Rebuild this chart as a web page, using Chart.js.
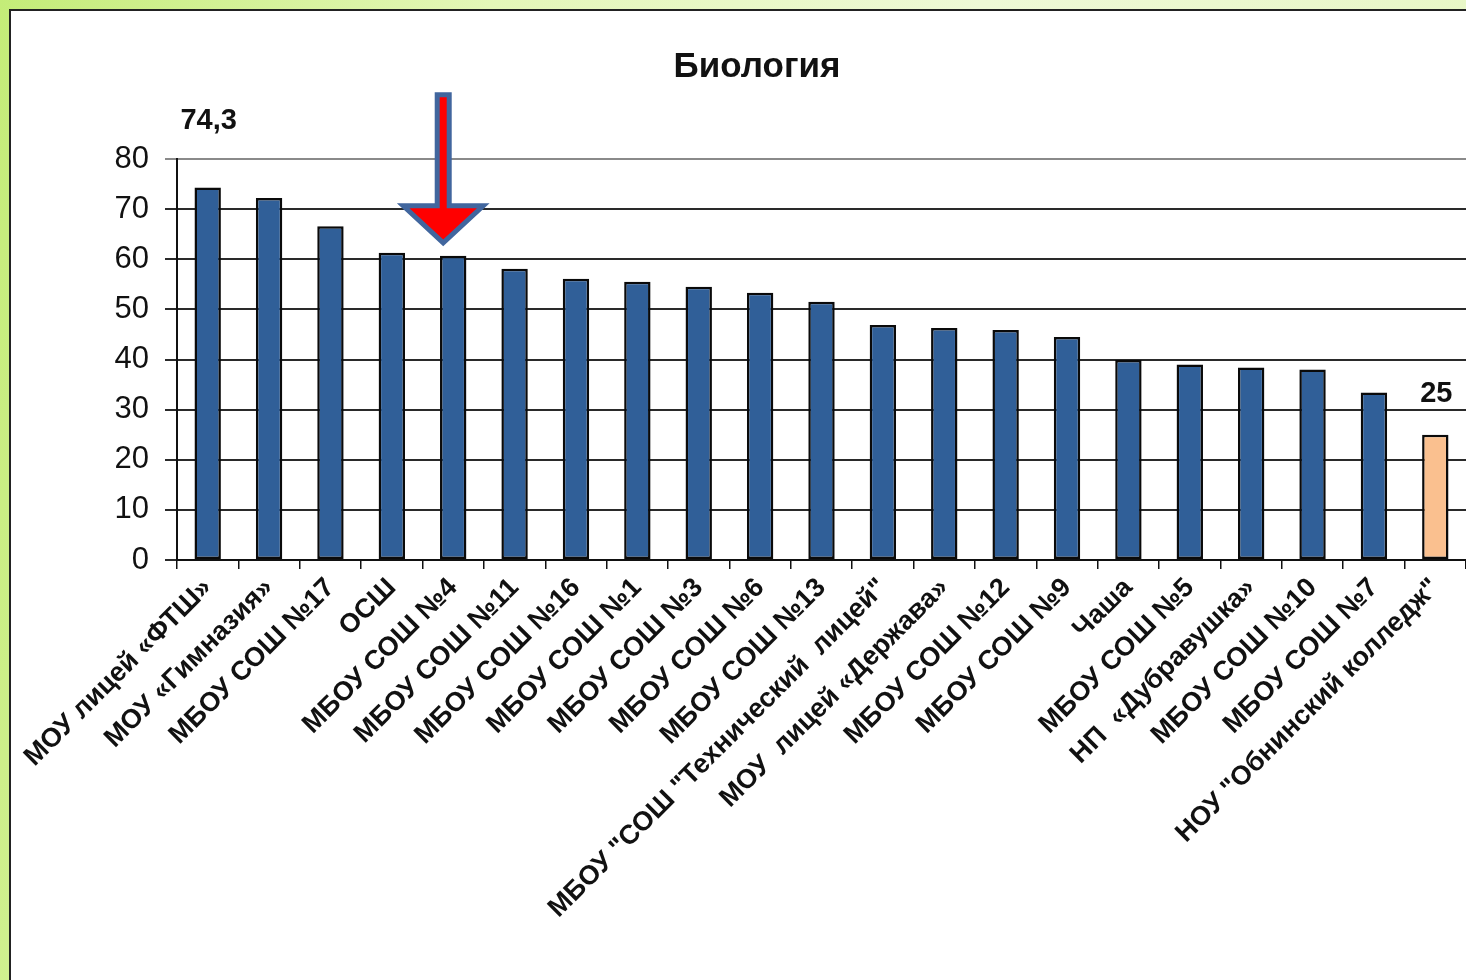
<!DOCTYPE html>
<html>
<head>
<meta charset="utf-8">
<script src="https://cdn.jsdelivr.net/npm/chart.js@4"></script>
<style>
  html, body { margin: 0; padding: 0; width: 1466px; height: 980px; overflow: hidden; }
  body { background: linear-gradient(100deg, #c4ec78 0%, #e4f7b8 30%, #eef9d6 60%, #e6f6c2 100%); position: relative; }
  #panel { position: absolute; left: 9px; top: 9px; width: 1540px; height: 1000px; background: #fff; border-left: 2px solid #222; border-top: 2px solid #222; }
  #chart { position: absolute; left: 10px; top: 10px; }
</style>
</head>
<body>
<div id="panel"></div>
<canvas id="chart" width="1494" height="970"></canvas>
<script>
const categories = [
    'МОУ лицей «ФТШ»',
    'МОУ «Гимназия»',
    'МБОУ СОШ №17',
    'ОСШ',
    'МБОУ СОШ №4',
    'МБОУ СОШ №11',
    'МБОУ СОШ №16',
    'МБОУ СОШ №1',
    'МБОУ СОШ №3',
    'МБОУ СОШ №6',
    'МБОУ СОШ №13',
    'МБОУ "СОШ "Технический  лицей"',
    'МОУ  лицей «Держава»',
    'МБОУ СОШ №12',
    'МБОУ СОШ №9',
    'Чаша',
    'МБОУ СОШ №5',
    'НП  «Дубравушка»',
    'МБОУ СОШ №10',
    'МБОУ СОШ №7',
    'НОУ "Обнинский колледж"'
];
const scores = [74.3, 72.2, 66.6, 61.3, 60.7, 58.1, 56.1, 55.5, 54.5, 53.3, 51.5,
    46.9, 46.3, 45.9, 44.5, 39.9, 39.0, 38.4, 38.0, 33.4, 25];
const valueLabels = ['74,3', '', '', '', '', '', '', '', '', '', '',
    '', '', '', '', '', '', '', '', '', '25'];
const markedIndex = 4;   // arrow points at this school
const yMin = 0, yMax = 80, yStep = 10;

const FONT = '"Liberation Sans", Arial, sans-serif';
const blue = '#305f98';
const peach = '#fac08f';

// labels above selected bars + the red arrow
const extrasPlugin = {
    id: 'extras',
    afterDatasetsDraw(chart) {
        const ctx = chart.ctx;
        const bars = chart.getDatasetMeta(0).data;
        ctx.save();
        ctx.font = 'bold 29px ' + FONT;
        ctx.fillStyle = '#111';
        ctx.textAlign = 'center';
        ctx.textBaseline = 'middle';
        const lift = { 0: 67, 20: 41 };
        valueLabels.forEach(function (txt, i) {
            if (!txt) return;
            const b = bars[i];
            ctx.fillText(txt, b.x + 1, b.y - (lift[i] || 40));
        });

        // arrow
        const b = bars[markedIndex];
        const cx = b.x - 10;
        const tip = b.y - 11;
        ctx.beginPath();
        ctx.moveTo(cx - 6, tip - 150);
        ctx.lineTo(cx + 6, tip - 150);
        ctx.lineTo(cx + 6, tip - 39);
        ctx.lineTo(cx + 40, tip - 39);
        ctx.lineTo(cx, tip - 2);
        ctx.lineTo(cx - 40, tip - 39);
        ctx.lineTo(cx - 6, tip - 39);
        ctx.closePath();
        ctx.fillStyle = '#ff0000';
        ctx.fill();
        ctx.lineWidth = 5;
        ctx.lineJoin = 'miter';
        ctx.strokeStyle = '#41669e';
        ctx.stroke();
        ctx.restore();
    }
};

const data = {
    labels: categories,
    datasets: [{
        data: scores,
        backgroundColor: scores.map(function (v, i) { return i === scores.length - 1 ? peach : blue; }),
        borderColor: '#0a0a0a',
        borderWidth: 2.5,
        borderSkipped: false,
        categoryPercentage: 1,
        barPercentage: 0.43
    }]
};

const config = {
    type: 'bar',
    data: data,
    options: {
        responsive: false,
        animation: false,
        layout: { padding: { left: 38, right: 38, top: 0, bottom: 0 } },
        plugins: {
            legend: { display: false },
            tooltip: { enabled: false },
            title: {
                display: true,
                text: 'Биология',
                color: '#111',
                font: { family: FONT, size: 35, weight: 'bold' },
                padding: { top: 36, bottom: 71 }
            }
        },
        scales: {
            x: {
                offset: true,
                grid: {
                    offset: true,
                    drawOnChartArea: false,
                    tickLength: 9,
                    color: '#111',
                    lineWidth: 1.5
                },
                border: { color: '#111', width: 2 },
                ticks: {
                    autoSkip: false,
                    minRotation: 45,
                    maxRotation: 45,
                    padding: 3,
                    color: '#111',
                    font: { family: FONT, size: 27, weight: 'bold' }
                },
                afterFit: function (s) { s.height = 420; }
            },
            y: {
                min: yMin,
                max: yMax,
                grid: {
                    color: function (c) { return c.tick && c.tick.value === yMax ? '#8a8a8a' : '#2a2a2a'; },
                    lineWidth: 2,
                    tickLength: 12
                },
                border: { color: '#111', width: 2 },
                ticks: {
                    stepSize: yStep,
                    padding: 16,
                    color: '#111',
                    font: { family: FONT, size: 31 }
                },
                afterFit: function (s) { s.width = 129; }
            }
        }
    },
    plugins: [extrasPlugin]
};

new Chart(document.getElementById('chart'), config);
</script>
</body>
</html>
